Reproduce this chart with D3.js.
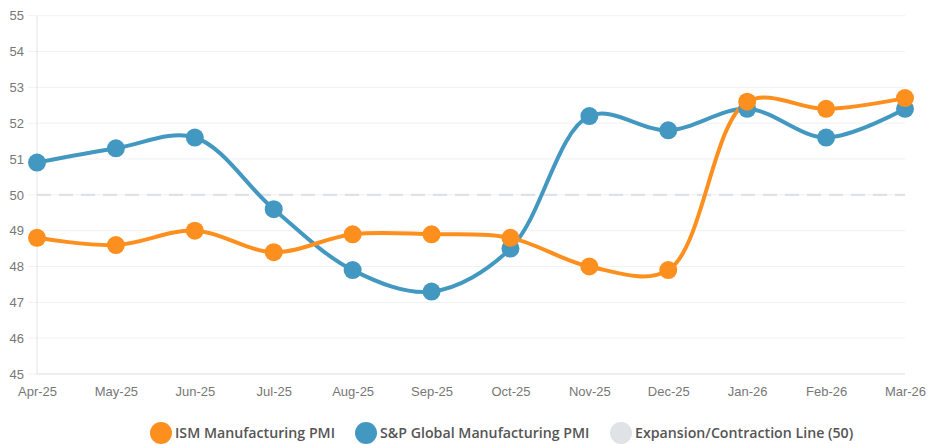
<!DOCTYPE html>
<html>
<head>
<meta charset="utf-8">
<script src="https://cdn.jsdelivr.net/npm/d3@7"></script>
<style>
  html, body { margin: 0; padding: 0; background: #fff; }
  svg { display: block; font-family: "Open Sans", Lato, sans-serif; }
</style>
</head>
<body>
<svg id="chart" width="929" height="444"></svg>
<script>
// Monthly PMI readings
const months = ["Apr-25","May-25","Jun-25","Jul-25","Aug-25","Sep-25","Oct-25","Nov-25","Dec-25","Jan-26","Feb-26","Mar-26"];
const ismPmi = [48.8, 48.6, 49.0, 48.4, 48.9, 48.9, 48.8, 48.0, 47.9, 52.6, 52.4, 52.7];
const spGlobalPmi = [50.9, 51.3, 51.6, 49.6, 47.9, 47.3, 48.5, 52.2, 51.8, 52.4, 51.6, 52.4];
const thresholdValue = 50;
const yTicks = [45, 46, 47, 48, 49, 50, 51, 52, 53, 54, 55];
const seriesNames = ["ISM Manufacturing PMI", "S&P Global Manufacturing PMI", "Expansion/Contraction Line (50)"];
const seriesColors = ["#FD8F1E", "#4398C1", "#DFE3E6"];

const svg = d3.select("#chart");
const margin = { left: 37, right: 24, top: 15.7, bottom: 70 };
const W = 929, H = 444;

const x = d3.scalePoint().domain(months).range([margin.left, W - margin.right]);
const y = d3.scaleLinear().domain([45, 55]).range([H - margin.bottom, margin.top]);

// horizontal grid
svg.append("g").selectAll("line").data(yTicks).join("line")
  .attr("x1", margin.left - 9).attr("x2", W - margin.right)
  .attr("y1", d => y(d)).attr("y2", d => y(d))
  .attr("stroke", "#f1f1f1").attr("stroke-width", 1);

// left and bottom axis lines
svg.append("line")
  .attr("x1", margin.left).attr("x2", margin.left)
  .attr("y1", y(55)).attr("y2", y(45))
  .attr("stroke", "#e4e4e4");
svg.append("line")
  .attr("x1", margin.left).attr("x2", W - margin.right)
  .attr("y1", y(45)).attr("y2", y(45))
  .attr("stroke", "#e4e4e4");

// y labels
const yAxis = d3.axisLeft(y).tickValues(yTicks).tickSize(0).tickPadding(13).tickFormat(d3.format("d"));
const gy = svg.append("g").attr("transform", `translate(${margin.left},0)`).call(yAxis);
gy.select(".domain").remove();
gy.selectAll("text").attr("fill", "#777").style("font-size", "13px");

// x labels
const xAxis = d3.axisBottom(x).tickSize(0).tickPadding(13);
const gx = svg.append("g").attr("transform", `translate(0,${y(45)})`).call(xAxis);
gx.select(".domain").remove();
gx.selectAll("text").attr("fill", "#777").style("font-size", "13px");

// expansion/contraction threshold
svg.append("line")
  .attr("x1", margin.left).attr("x2", W - margin.right)
  .attr("y1", y(thresholdValue)).attr("y2", y(thresholdValue))
  .attr("stroke", seriesColors[2]).attr("stroke-width", 2.2)
  .attr("stroke-dasharray", "14,8");

const line = d3.line()
  .x((d, i) => x(months[i]))
  .y(d => y(d))
  .curve(d3.curveCatmullRom.alpha(0.5));

const series = [
  { values: spGlobalPmi, color: seriesColors[1] },
  { values: ismPmi, color: seriesColors[0] }
];

series.forEach(s => {
  svg.append("path").datum(s.values)
    .attr("d", line)
    .attr("fill", "none")
    .attr("stroke", s.color)
    .attr("stroke-width", 4)
    .attr("stroke-linejoin", "round");
});
series.forEach(s => {
  svg.append("g").selectAll("circle").data(s.values).join("circle")
    .attr("cx", (d, i) => x(months[i]))
    .attr("cy", d => y(d))
    .attr("r", 9)
    .attr("fill", s.color);
});

// legend
const legendItems = [
  { name: seriesNames[0], color: seriesColors[0], cx: 161 },
  { name: seriesNames[1], color: seriesColors[1], cx: 366 },
  { name: seriesNames[2], color: seriesColors[2], cx: 621 }
];
const lg = svg.append("g");
legendItems.forEach(it => {
  lg.append("circle").attr("cx", it.cx).attr("cy", 433).attr("r", 11).attr("fill", it.color);
  lg.append("text").attr("x", it.cx + 14).attr("y", 438)
    .attr("fill", "#555").style("font-size", "14.2px").style("font-weight", 600)
    .text(it.name);
});
</script>
</body>
</html>
